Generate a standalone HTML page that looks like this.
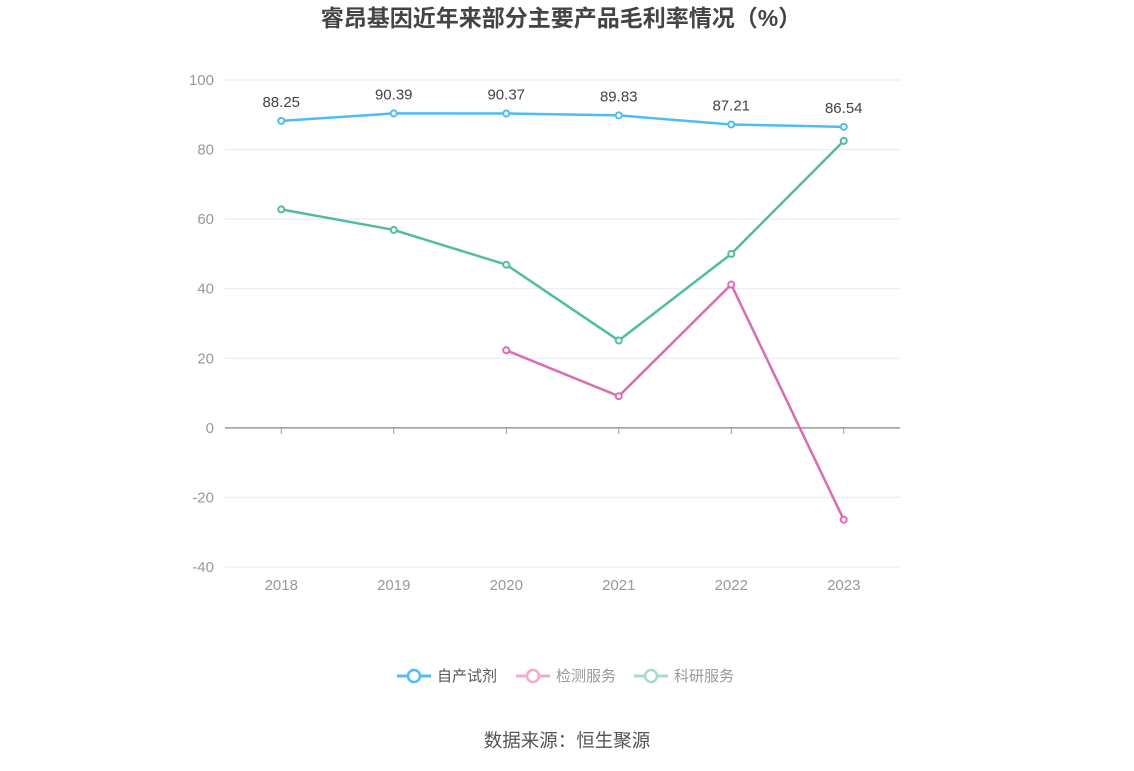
<!DOCTYPE html>
<html><head><meta charset="utf-8"><style>
body{margin:0;background:#fff;font-family:"Liberation Sans","Noto Sans CJK SC",sans-serif}
</style></head><body>
<svg id="c" width="1134" height="766" xmlns="http://www.w3.org/2000/svg" font-family="Liberation Sans, Noto Sans CJK SC, sans-serif">
<text x="561" y="26" text-anchor="middle" font-size="23" font-weight="bold" fill="#444">睿昂基因近年来部分主要产品毛利率情况（%）</text>
<g id="grid"></g><g id="series"></g>
<g>
<g><line x1="397" y1="676" x2="431" y2="676" stroke="#4fbdf5" stroke-width="3"/><circle cx="414" cy="676" r="6" fill="#fff" stroke="#4fbdf5" stroke-width="2.5"/><text x="437" y="681" font-size="15" fill="#555">自产试剂</text></g>
<g><line x1="516" y1="676" x2="550" y2="676" stroke="#f0a8d4" stroke-width="3"/><circle cx="533" cy="676" r="6" fill="#fff" stroke="#f0a8d4" stroke-width="2.5"/><text x="556" y="681" font-size="15" fill="#999">检测服务</text></g>
<g><line x1="634" y1="676" x2="668" y2="676" stroke="#a6dccb" stroke-width="3"/><circle cx="651" cy="676" r="6" fill="#fff" stroke="#a6dccb" stroke-width="2.5"/><text x="674" y="681" font-size="15" fill="#999">科研服务</text></g>
</g>
<text x="567" y="747" text-anchor="middle" font-size="18.5" fill="#555">数据来源：恒生聚源</text>
</svg>
<script>
const categories=["2018","2019","2020","2021","2022","2023"];
const yTicks=[100,80,60,40,20,0,-20,-40];
const reagent=[88.25,90.39,90.37,89.83,87.21,86.54];
const testing=[null,null,22.3,9.1,41.2,-26.4];
const research=[62.8,56.9,46.9,25.1,50.0,82.5];
const NS="http://www.w3.org/2000/svg";
const L=225,R=900,T=80,B=567,yMax=100,yMin=-40;
const y=v=>T+(yMax-v)/(yMax-yMin)*(B-T);
const x=i=>L+(R-L)/categories.length*(i+0.5);
function mk(tag,at,parent){const e=document.createElementNS(NS,tag);for(const k in at)e.setAttribute(k,at[k]);parent.appendChild(e);return e;}
const g=document.getElementById('grid'),s=document.getElementById('series');
yTicks.forEach(v=>{
 const ln=mk('line',{x1:L,x2:R,y1:y(v),y2:y(v),stroke:v===0?'#999':'#e6e9f2','stroke-width':v===0?1.5:1},g);
 
 
 const t=mk('text',{x:L-11,y:y(v)+5,'text-anchor':'end','font-size':15,fill:'#999'},g);t.textContent=v;
 
 
});
categories.forEach((c,i)=>{
 const tk=mk('line',{x1:x(i),x2:x(i),y1:y(0),y2:y(0)+6,stroke:'#999'},g);
 
 
 const t=mk('text',{x:x(i),y:590,'text-anchor':'middle','font-size':15,fill:'#999'},g);t.textContent=c;
 
 
});
function draw(data,color,name,labels){
 const pts=[];data.forEach((v,i)=>{if(v!==null)pts.push([x(i),y(v),v]);});
 const p=mk('polyline',{points:pts.map(p=>p[0]+','+p[1]).join(' '),fill:'none',stroke:color,'stroke-width':2.5},s);
 
 
 pts.forEach(q=>{
  const c=mk('circle',{cx:q[0],cy:q[1],r:3,fill:'#fff',stroke:color,'stroke-width':2},s);
  
  
  if(labels){const t=mk('text',{x:q[0],y:q[1]-14,'text-anchor':'middle','font-size':15,fill:'#444'},s);t.textContent=q[2].toFixed(2);
  
  }
 });
}
draw(research,'#52bca3','research');
draw(testing,'#dd6bb4','testing');
draw(reagent,'#4fbdf5','reagent',true);
</script>
</body></html>
